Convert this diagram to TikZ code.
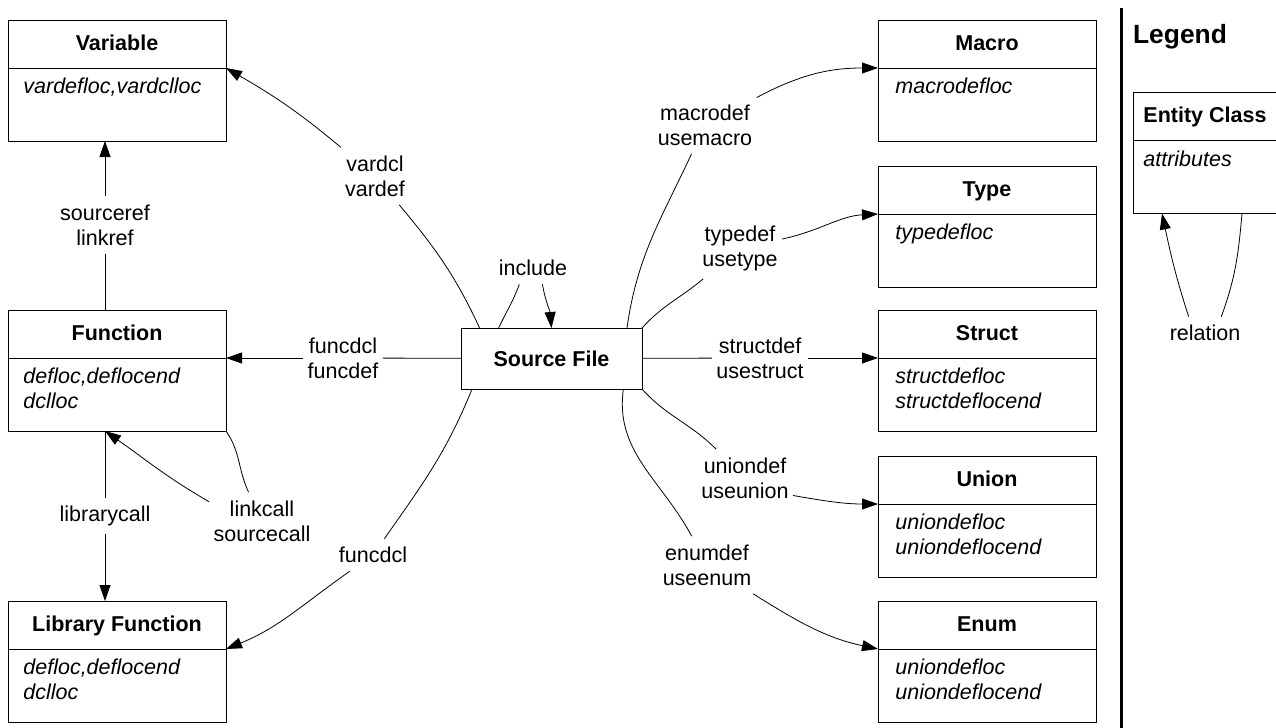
\documentclass[tikz,border=0pt]{standalone}
\usepackage{fontspec}
\setmainfont{Liberation Sans}
\usetikzlibrary{%
	positioning,%
	arrows.meta
}
\tikzstyle{line}=[draw]
\tikzstyle{head}=[draw, outer sep=0pt, minimum width=109pt, minimum height=24pt, text height=8pt, text depth=2pt, font=\bfseries]
\tikzstyle{body}=[draw, outer sep=0pt, minimum width=109pt, minimum height=36.5pt, anchor=north]
\tikzstyle{attr}=[font=\itshape, align=left, inner sep=0pt]
\tikzstyle{rel}=[align=center, inner xsep=2pt, inner ysep=4pt]
\tikzstyle{arr}=[-{Triangle[length=8pt,width=5.5pt]}]

\begin{document}
\begin{tikzpicture}[x=0.5pt, y=0.5pt]
	\fontsize{10.75}{12.5}\selectfont
	\useasboundingbox (0,0) rectangle (1276,-728);

	% Entity classes
	\node[head] (var) at (117,-44) {Variable};
	\node[head] (func) at (117,-334) {Function};
	\node[head] (lib) at (117,-625) {Library Function};
	\node[head] (macro) at (987,-44) {Macro};
	\node[head] (type) at (987,-190) {Type};
	\node[head] (struct) at (987,-334) {Struct};
	\node[head] (union) at (987,-480) {Union};
	\node[head] (enum) at (987,-625) {Enum};
	\foreach \c in {var,func,lib,macro,type,struct,union,enum}
		\node[body] (\c-b) at (\c.south) {};

	% Attributes
	\node[attr, below right=5pt and 7.5pt of var.south west] (var-a) {vardefloc,vardclloc};
	\node[attr, below right=5pt and 7.5pt of func.south west] (func-a) {defloc,deflocend\\dclloc};
	\node[attr, below right=5pt and 7.5pt of lib.south west] (lib-a) {defloc,deflocend\\dclloc};
	\node[attr, below right=5pt and 8.5pt of macro.south west] (macro-a) {macrodefloc};
	\node[attr, below right=5pt and 8.5pt of type.south west] (type-a) {typedefloc};
	\node[attr, below right=5pt and 8.5pt of struct.south west] (struct-a) {structdefloc\\structdeflocend};
	\node[attr, below right=5pt and 8.5pt of union.south west] (union-a) {uniondefloc\\uniondeflocend};
	\node[attr, below right=5pt and 8.5pt of enum.south west] (enum-a) {uniondefloc\\uniondeflocend};

	\node[draw, outer sep=0pt, minimum width=90.5pt, minimum height=30.5pt, font=\bfseries] (src) at (551.5,-358.5) {Source File};

	% Relation labels
	\node[rel] (l-var) at (375,-176) {vardcl\\vardef};
	\node[rel] (l-ref) at (105,-225) {sourceref\\linkref};
	\node[rel] (l-fn) at (343,-358) {funcdcl\\funcdef};
	\node[rel] (l-inc) at (533,-268) {include};
	\node[rel] (l-lib) at (105,-516) {librarycall};
	\node[rel] (l-call) at (262,-521) {linkcall\\sourcecall};
	\node[rel] (l-dcl) at (373,-555) {funcdcl};
	\node[rel] (l-mac) at (705,-125) {macrodef\\usemacro};
	\node[rel] (l-type) at (740,-248) {typedef\\usetype};
	\node[rel] (l-st) at (760,-358) {structdef\\usestruct};
	\node[rel] (l-un) at (745,-478) {uniondef\\useunion};
	\node[rel] (l-en) at (707,-565) {enumdef\\useenum};

	% Relations
	\draw (src.157.7) to[out=115,in=-50] (l-var);
	\draw[arr] (l-var) to[out=140,in=-30] (var.south east);
	\draw (l-ref) -- (l-ref |- func.north);
	\draw[arr] (l-ref) -- (l-ref |- var-b.south);
	\draw (src) -- (l-fn);
	\draw[arr] (l-fn) -- (func.south east);
	\draw (src.150) to[out=65,in=-110] (l-inc.-130);
	\draw[arr] (l-inc.-60) to[out=-80,in=95] (src.north);
	\draw (l-lib) -- (l-lib |- func-b.south);
	\draw[arr] (l-lib) -- (l-lib |- lib.north);
	\draw (func-b.south east) to[out=-55,in=115] (l-call);
	\draw[arr] (l-call.160) to[out=150,in=-35] (l-lib |- func-b.south);
	\draw (src.201.2) to[out=-112,in=55] (l-dcl);
	\draw[arr] (l-dcl) to[out=215,in=22] (lib.south east);
	\draw (src.22.8) to[out=82,in=-115] (l-mac);
	\draw[arr] (l-mac) to[out=28,in=180] (macro.south west);
	\draw (src.north east) to[out=48,in=-140] (l-type);
	\draw[arr] (l-type) to[out=12,in=183] (type.south west);
	\draw (src) -- (l-st);
	\draw[arr] (l-st) -- (struct.south west);
	\draw (src.south east) to[out=-48,in=135] (l-un);
	\draw[arr] (l-un.-20) to[out=-10,in=180] (union.south west);
	\draw (src.337.5) to[out=-98,in=118] (l-en);
	\draw[arr] (l-en) to[out=-32,in=168] (enum.south west);

	% Legend
	\draw[line width=1.5pt] (1121,-8) -- (1121,-728);
	\node[font=\fontsize{13.2}{15}\selectfont\bfseries] (legend) at (1180,-37) {Legend};
	\node[head, minimum width=72pt] (ent) at (1205,-116.5) {Entity Class};
	\node[body, minimum width=72pt] (ent-b) at (ent.south) {};
	\node[attr, below right=5pt and 5pt of ent.south west] (ent-a) {attributes};
	\node[rel] (l-rel) at (1205,-333) {relation};
	\draw[arr] (l-rel.135) to[out=108,in=-78] ([xshift=14.5pt]ent-b.south west);
	\draw (l-rel.45) to[out=70,in=-95] ([xshift=54.5pt]ent-b.south west);
\end{tikzpicture}
\end{document}
